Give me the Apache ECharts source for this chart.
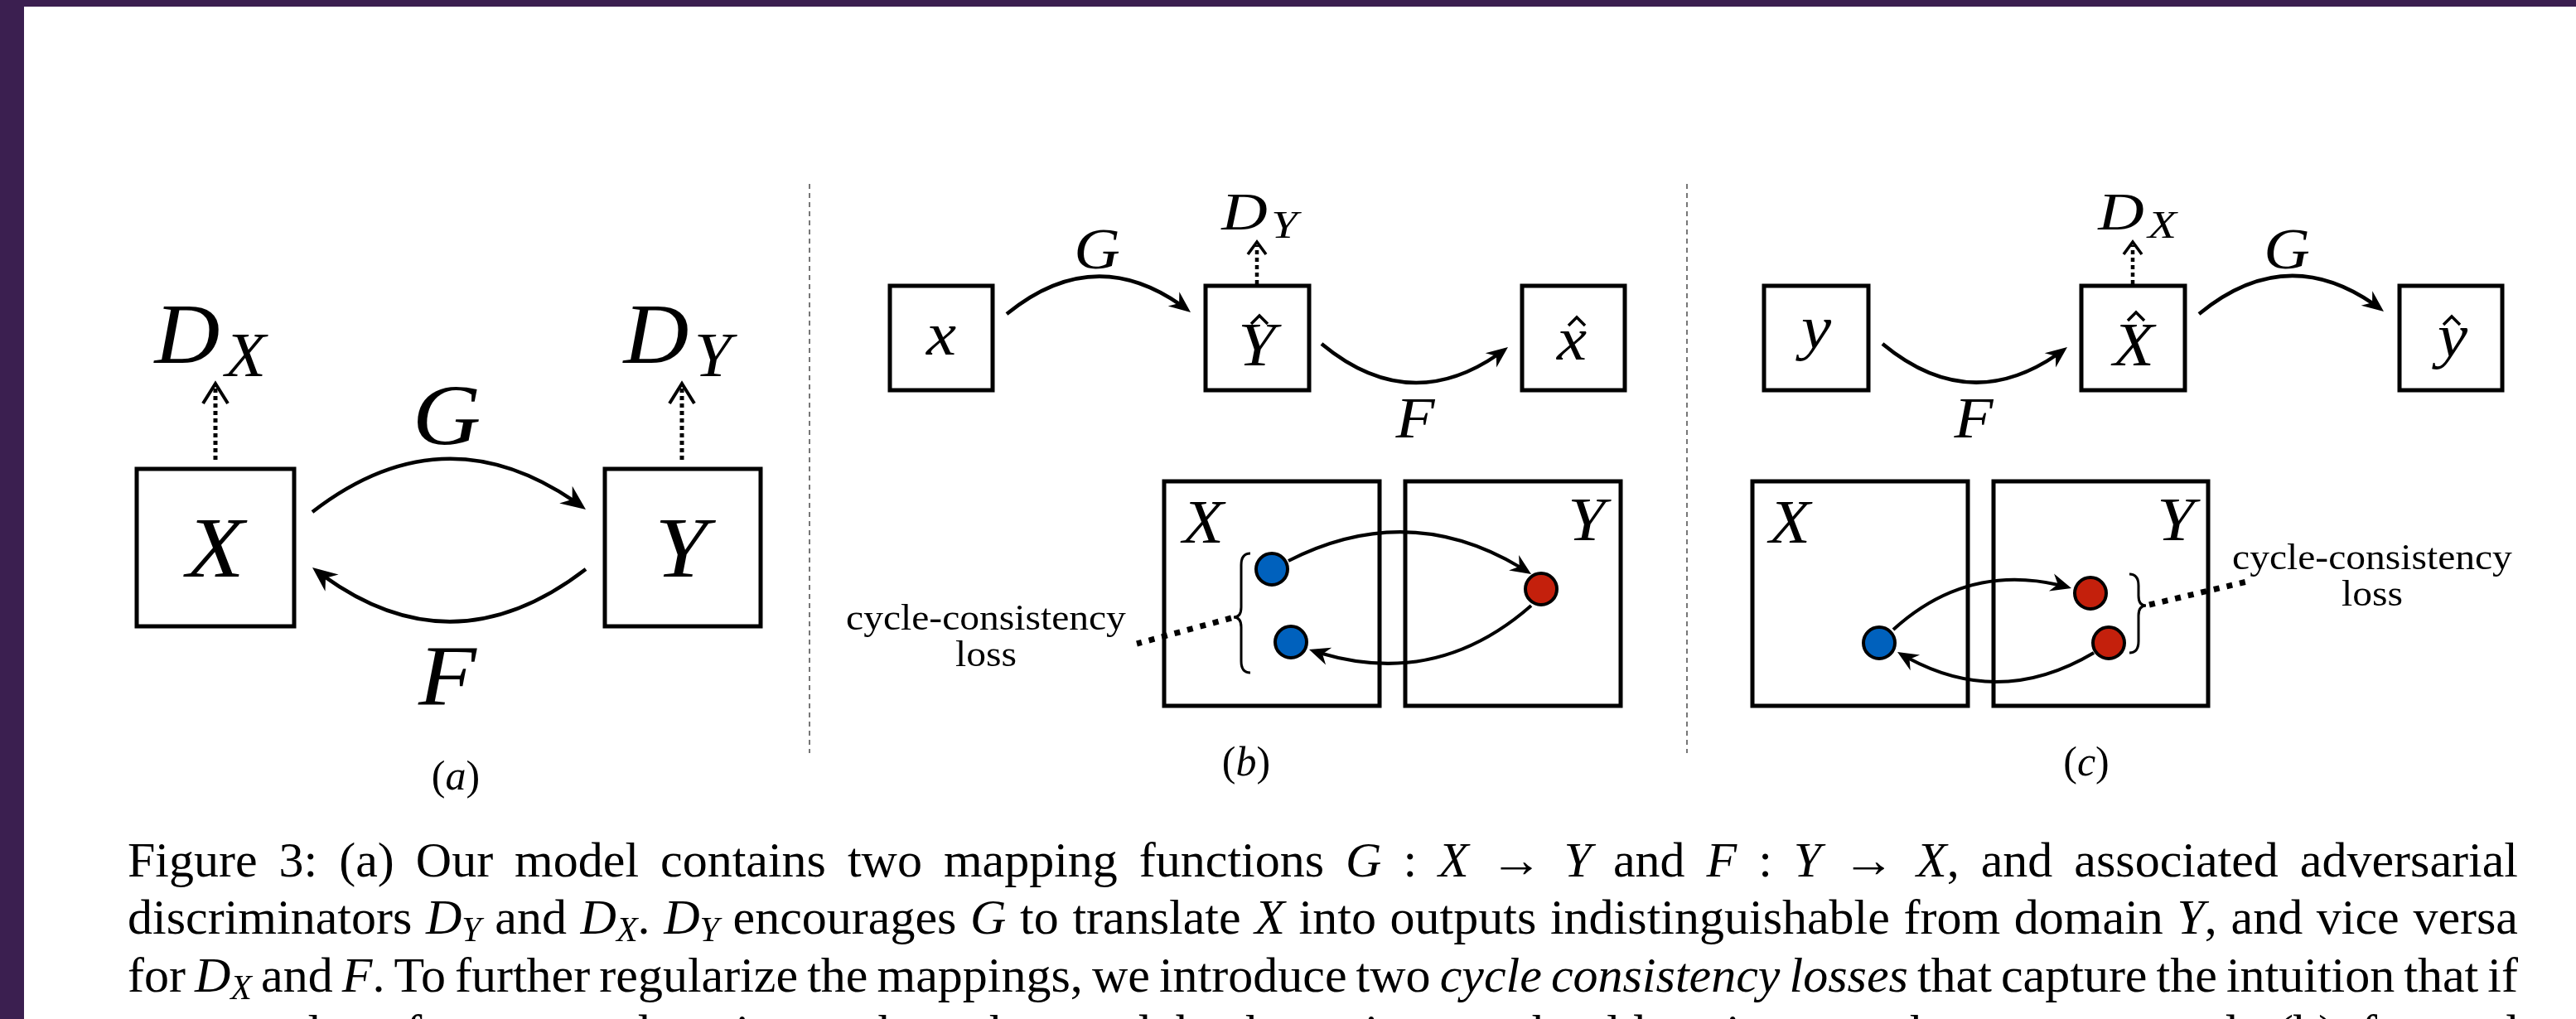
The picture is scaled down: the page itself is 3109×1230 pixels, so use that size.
<!DOCTYPE html>
<html>
<head>
<meta charset="utf-8">
<script src="https://cdn.jsdelivr.net/npm/echarts/dist/echarts.min.js"></script>
<style>
  html, body { margin: 0; padding: 0; background: #3b1f50; }
  #main { width: 3109px; height: 1230px; }
</style>
</head>
<body>
<div id="main"></div>
<script>
var SERIF = '"Liberation Serif", "Times New Roman", serif';
var MID = 0.263; // canvas "middle" sits this far (in em) above the alphabetic baseline

// ---- figure data, in figure units (1 unit = 1 px of the page) ----
// boxes [x1, y1, x2, y2]
var boxes = [
  [165, 566, 355, 756], [730, 566, 918, 756],
  [1074, 345, 1198, 471], [1455, 345, 1580, 471], [1837, 345, 1961, 471],
  [1405, 581, 1665, 852], [1696, 581, 1956, 852],
  [2129, 345, 2255, 471], [2512, 345, 2637, 471], [2896, 345, 3020, 471],
  [2115, 581, 2375, 852], [2406, 581, 2665, 852]
];
var separators = [[977, 222, 977, 909], [2036, 222, 2036, 909]];
// mapping arcs [x1, y1, x2, y2, curveness]
var mapArcsA = [[377, 618, 707, 615, 0.38], [707, 687, 377, 685, 0.39]];
var mapArcsBC = [
  [1215, 379, 1437, 377, 0.40], [1595, 415, 1820, 419, -0.40],
  [2272, 415, 2495, 419, -0.40], [2654, 379, 2877, 376, 0.40]
];
var cycleArcs = [
  [1555, 677, 1848, 693, 0.29], [1848, 731, 1580, 784, 0.29],
  [2285, 760, 2500, 710, 0.28], [2527, 788, 2290, 787, 0.30]
];
// discriminator arrows [x, yFrom, yTip]
var discA = [[260, 555, 463], [823, 555, 463]];
var discBC = [[1517, 343, 292], [2574, 343, 292]];
var blueDots = [[1535, 687], [1558, 775], [2268, 776]];
var redDots = [[1860, 711], [2523, 716], [2545, 776]];
// braces [tipX, tipY, top, bottom, side]
var braces = [[1489, 745, 668, 812, 1], [2590, 731, 693, 788, -1]];
var lossLinks = [[1486, 746, 1372, 777], [2594, 730, 2716, 701]];

// labels [centerX, baseline, text]
var labelsA = [[260, 696, 'X'], [822, 696, 'Y'], [539, 536, 'G'], [540, 851, 'F']];
var discLabelsA = [[226, 438, 'X'], [792, 438, 'Y']];
var labelsBC = [[1324, 324, 'G'], [1708, 528, 'F'], [2382, 528, 'F'], [2760, 324, 'G']];
var discLabelsBC = [[1502, 277, 'Y'], [2560, 277, 'X']];
var nodeLabels = [[1136, 428, 'x'], [1517, 441, 'Y'], [1897, 434, 'x'], [2192, 420, 'y'], [2575, 441, 'X'], [2960, 430, 'y']];
var hats = [[1520, 386], [1903, 388], [2578, 382], [2959, 387]];
var domainLabels = [[1452, 655, 'X'], [1915, 652, 'Y'], [2160, 655, 'X'], [2626, 652, 'Y']];
var panelTags = [[550, 953, 'a'], [1504, 936, 'b'], [2518, 936, 'c']];
var lossNotes = [[1190, 760, 804], [2863, 687, 731]];
var lossText = ['cycle-consistency', 'loss'];

var captionLines = [
  'Figure 3: (a) Our model contains two mapping functions $G$ : $X$ $→$ $Y$ and $F$ : $Y$ $→$ $X$, and associated adversarial',
  'discriminators $D_Y$ and $D_X$. $D_Y$ encourages $G$ to translate $X$ into outputs indistinguishable from domain $Y$, and vice versa',
  'for $D_X$ and $F$. To further regularize the mappings, we introduce two *cycle consistency losses* that capture the intuition that if',
  'we translate from one domain to the other and back again we should arrive at where we started: (b) forward'
];
var captionBaselines = [1058, 1127, 1197, 1266];

// ---- helpers ----
function txt(x, base, s, size, opt) {
  opt = opt || {};
  return {
    type: 'text', x: x, y: base - MID * size, scaleX: opt.sx || 1,
    style: {
      text: s, fontFamily: SERIF, fontSize: size,
      fontStyle: opt.italic ? 'italic' : 'normal', fill: '#000',
      align: opt.align || 'center', verticalAlign: 'middle'
    }
  };
}

function boxItem(params, api) {
  var b = boxes[params.dataIndex];
  var p1 = api.coord([b[0], b[1]]), p2 = api.coord([b[2], b[3]]);
  return {
    type: 'rect',
    shape: { x: p1[0], y: p1[1], width: p2[0] - p1[0], height: p2[1] - p1[1] },
    style: { fill: 'none', stroke: '#000', lineWidth: 5 }
  };
}

function sepItem(params, api) {
  var s = separators[params.dataIndex];
  var p1 = api.coord([s[0], s[1]]), p2 = api.coord([s[2], s[3]]);
  return {
    type: 'line', shape: { x1: p1[0], y1: p1[1], x2: p2[0], y2: p2[1] },
    style: { stroke: '#777', lineWidth: 2, lineDash: [6, 5] }
  };
}

function arcItem(list, lw, L, hw) {
  return function (params, api) {
    var a = list[params.dataIndex];
    var p0 = api.coord([a[0], a[1]]), p2 = api.coord([a[2], a[3]]);
    var dx = p2[0] - p0[0], dy = p2[1] - p0[1];
    var c = [(p0[0] + p2[0]) / 2 + a[4] * dy, (p0[1] + p2[1]) / 2 - a[4] * dx];
    var ex = p2[0] - c[0], ey = p2[1] - c[1], el = Math.sqrt(ex * ex + ey * ey);
    var ux = ex / el, uy = ey / el, vx = -uy, vy = ux;
    // stop the stroke under the arrow head
    var t = 1 - 0.6 * L / (2 * el);
    var q0 = [p0[0] + t * (c[0] - p0[0]), p0[1] + t * (c[1] - p0[1])];
    var q1 = [c[0] + t * (p2[0] - c[0]), c[1] + t * (p2[1] - c[1])];
    var r = [q0[0] + t * (q1[0] - q0[0]), q0[1] + t * (q1[1] - q0[1])];
    var bx = p2[0] - L * ux, by = p2[1] - L * uy;
    return {
      type: 'group', children: [
        { type: 'bezierCurve', shape: { x1: p0[0], y1: p0[1], cpx1: q0[0], cpy1: q0[1], x2: r[0], y2: r[1] },
          style: { stroke: '#000', lineWidth: lw, fill: 'none' } },
        { type: 'polygon', shape: { points: [p2, [bx + hw * vx, by + hw * vy],
            [p2[0] - 0.68 * L * ux, p2[1] - 0.68 * L * uy], [bx - hw * vx, by - hw * vy]] },
          style: { fill: '#000' } }
      ]
    };
  };
}

function discItem(list, lw, hw, hh, dash) {
  return function (params, api) {
    var d = list[params.dataIndex];
    var p0 = api.coord([d[0], d[1]]), p1 = api.coord([d[0], d[2]]);
    return {
      type: 'group', children: [
        { type: 'line', shape: { x1: p0[0], y1: p0[1], x2: p1[0], y2: p1[1] + 4 },
          style: { stroke: '#000', lineWidth: lw, lineDash: dash } },
        { type: 'polyline', shape: { points: [[p1[0] - hw, p1[1] + hh], p1, [p1[0] + hw, p1[1] + hh]] },
          style: { stroke: '#000', lineWidth: lw * 0.8, fill: 'none' } }
      ]
    };
  };
}

function braceItem(params, api) {
  var b = braces[params.dataIndex], s = b[4];
  var tip = api.coord([b[0], b[1]]), top = api.coord([b[0], b[2]]), bot = api.coord([b[0], b[3]]);
  var xt = tip[0], ym = tip[1], yT = top[1], yB = bot[1];
  var xa = xt + s * 9, xe = xt + s * 20;
  var d = 'M' + xe + ',' + yT + ' Q' + xa + ',' + yT + ' ' + xa + ',' + (yT + 14) +
    ' L' + xa + ',' + (ym - 12) + ' Q' + xa + ',' + ym + ' ' + xt + ',' + ym +
    ' Q' + xa + ',' + ym + ' ' + xa + ',' + (ym + 12) + ' L' + xa + ',' + (yB - 14) +
    ' Q' + xa + ',' + yB + ' ' + xe + ',' + yB;
  return { type: 'path', shape: { pathData: d }, style: { stroke: '#000', lineWidth: 3, fill: 'none' } };
}

function linkItem(params, api) {
  var l = lossLinks[params.dataIndex];
  var p1 = api.coord([l[0], l[1]]), p2 = api.coord([l[2], l[3]]);
  return {
    type: 'line', shape: { x1: p1[0], y1: p1[1], x2: p2[0], y2: p2[1] },
    style: { stroke: '#000', lineWidth: 7, lineDash: [7, 9] }
  };
}

function hatItem(params, api) {
  var h = hats[params.dataIndex];
  var p = api.coord(h);
  return {
    type: 'polyline', shape: { points: [[p[0] - 10, p[1] + 5], [p[0], p[1] - 5], [p[0] + 10, p[1] + 5]] },
    style: { stroke: '#000', lineWidth: 3.5, fill: 'none' }
  };
}

function labelItem(list, size, opt) {
  return function (params, api) {
    var d = list[params.dataIndex];
    var p = api.coord([d[0], d[1]]);
    return txt(p[0], p[1], d[2], size, opt);
  };
}

function discLabelItem(list, size, sx) {
  return function (params, api) {
    var d = list[params.dataIndex];
    var p = api.coord([d[0], d[1]]);
    return {
      type: 'group', children: [
        txt(p[0], p[1], 'D', size, { italic: true, sx: sx }),
        txt(p[0] + 0.42 * size * sx, p[1] + 0.15 * size, d[2], size * 0.74, { italic: true, sx: sx, align: 'left' })
      ]
    };
  };
}

function tagItem(params, api) {
  var d = panelTags[params.dataIndex];
  var p = api.coord([d[0], d[1]]);
  return {
    type: 'text', x: p[0], y: p[1] - MID * 50,
    style: {
      text: '{r|(}{i|' + d[2] + '}{r|)}', align: 'center', verticalAlign: 'middle',
      rich: {
        r: { fontFamily: SERIF, fontSize: 50, fill: '#000' },
        i: { fontFamily: SERIF, fontSize: 50, fontStyle: 'italic', fill: '#000' }
      }
    }
  };
}

function lossItem(params, api) {
  var d = lossNotes[params.dataIndex];
  var p1 = api.coord([d[0], d[1]]), p2 = api.coord([d[0], d[2]]);
  return {
    type: 'group', children: [
      txt(p1[0], p1[1], lossText[0], 44, { sx: 1.08 }),
      txt(p2[0], p2[1], lossText[1], 44, { sx: 1.08 })
    ]
  };
}

function custom(list, fn, z) {
  return {
    type: 'custom', coordinateSystem: 'cartesian2d', silent: true, z: z || 2,
    data: list.map(function (d) { return [d[0], d[1]]; }), renderItem: fn
  };
}

// ---- caption, justified between the margins ----
var measureCtx = document.createElement('canvas').getContext('2d');
var CAP = { left: 154, right: 3039, size: 60, sub: 42, subDrop: 9 };

function pieceSize(p) { return p.st === 's' ? CAP.sub : CAP.size; }
function pieceItalic(p) { return p.st === 'm' || p.st === 's' || p.st === 'e'; }
function rawWidth(p) {
  measureCtx.font = (pieceItalic(p) ? 'italic ' : '') + pieceSize(p) + 'px ' + SERIF;
  return measureCtx.measureText(p.t).width;
}
function measure(p) {
  if (p.st === 'a') return 1.05 * CAP.size;   // math arrow, about one em wide
  return rawWidth(p);
}

function parseLine(line) {
  var words = [[]], math = false, emph = false, sub = false;
  function push(ch, st) {
    var w = words[words.length - 1];
    var last = w[w.length - 1];
    if (last && last.st === st && st !== 'a') last.t += ch; else w.push({ t: ch, st: st });
  }
  for (var i = 0; i < line.length; i++) {
    var ch = line[i];
    if (ch === '$') { math = !math; continue; }
    if (ch === '*') { emph = !emph; continue; }
    if (ch === ' ') { words.push([]); continue; }
    if (math) {
      if (ch === '_') { sub = true; continue; }
      if (ch === '→') { push(ch, 'a'); continue; }
      push(ch, sub ? 's' : (/[A-Za-z]/.test(ch) ? 'm' : 'r'));
      sub = false;
      continue;
    }
    push(ch, emph ? 'e' : 'r');
  }
  return words;
}

var captionGraphics = [];
captionLines.forEach(function (line, li) {
  var words = parseLine(line);
  var widths = words.map(function (w) {
    return w.reduce(function (s, p) { return s + measure(p); }, 0);
  });
  var total = widths.reduce(function (s, v) { return s + v; }, 0);
  var gap = (CAP.right - CAP.left - total) / (words.length - 1);
  var x = CAP.left;
  words.forEach(function (w) {
    w.forEach(function (p) {
      var size = pieceSize(p);
      var base = captionBaselines[li] + (p.st === 's' ? CAP.subDrop : 0);
      captionGraphics.push({
        type: 'text', x: x, y: base - MID * size, silent: true,
        scaleX: p.st === 'a' ? measure(p) / rawWidth(p) : 1,
        style: {
          text: p.t, fontFamily: SERIF, fontSize: size,
          fontStyle: pieceItalic(p) ? 'italic' : 'normal', fill: '#000',
          align: 'left', verticalAlign: 'middle'
        }
      });
      x += measure(p);
    });
    x += gap;
  });
});

var chart = echarts.init(document.getElementById('main'));
chart.setOption({
  backgroundColor: '#3b1f50',
  animation: false,
  grid: { left: 29, top: 8, right: 0, bottom: 0, show: true, backgroundColor: '#fff', borderWidth: 0 },
  xAxis: { type: 'value', min: 29, max: 3109, show: false },
  yAxis: { type: 'value', min: 8, max: 1230, inverse: true, show: false },
  graphic: captionGraphics,
  series: [
    custom(separators, sepItem, 1),
    custom(boxes, boxItem),
    custom(mapArcsA, arcItem(mapArcsA, 4.5, 30, 13)),
    custom(mapArcsBC, arcItem(mapArcsBC, 4.5, 26, 11)),
    custom(cycleArcs, arcItem(cycleArcs, 4, 25, 11)),
    custom(discA, discItem(discA, 5, 15, 24, [5, 4])),
    custom(discBC, discItem(discBC, 4.5, 11, 15, [5, 4])),
    custom(braces, braceItem),
    custom(lossLinks, linkItem),
    {
      type: 'scatter', silent: true, z: 5, symbolSize: 38, data: blueDots,
      itemStyle: { color: '#0061bd', borderColor: '#000', borderWidth: 4, opacity: 1 }
    },
    {
      type: 'scatter', silent: true, z: 5, symbolSize: 38, data: redDots,
      itemStyle: { color: '#c4200c', borderColor: '#000', borderWidth: 4, opacity: 1 }
    },
    custom(labelsA, labelItem(labelsA, 104, { italic: true, sx: 1.1 }), 6),
    custom(discLabelsA, discLabelItem(discLabelsA, 104, 1.05), 6),
    custom(labelsBC, labelItem(labelsBC, 70, { italic: true, sx: 1.1 }), 6),
    custom(discLabelsBC, discLabelItem(discLabelsBC, 64, 1.2), 6),
    custom(nodeLabels, labelItem(nodeLabels, 74, { italic: true, sx: 1.1 }), 6),
    custom(hats, hatItem, 6),
    custom(domainLabels, labelItem(domainLabels, 74, { italic: true, sx: 1.1 }), 6),
    custom(panelTags, tagItem, 6),
    custom(lossNotes, lossItem, 6)
  ]
});
</script>
</body>
</html>
